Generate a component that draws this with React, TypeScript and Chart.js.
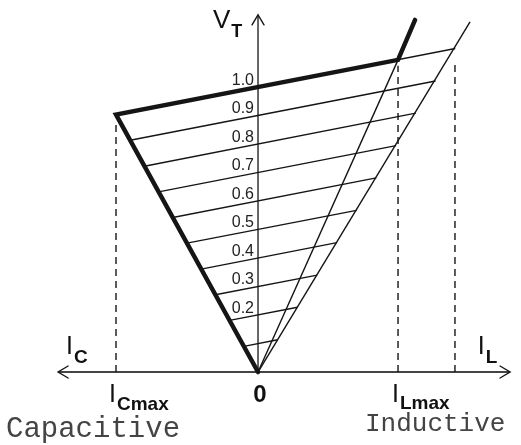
import React, { useEffect, useRef } from "react";
import { Chart, registerables } from "chart.js";

Chart.register(...registerables);

// Voltage reference levels (per unit) of the V-I characteristic family
const levels = [0.1, 0.2, 0.3, 0.4, 0.5, 0.6, 0.7, 0.8, 0.9, 1.0];
const levelLabels = ["", "0.2", "0.3", "0.4", "0.5", "0.6", "0.7", "0.8", "0.9", "1.0"];
// left (capacitive limit) and right (inductive line) end points of each characteristic
const leftI = [-0.1, -0.2, -0.3, -0.4, -0.5, -0.6, -0.7, -0.8, -0.9, -1.0];
const leftV = [0.09, 0.181, 0.271, 0.361, 0.452, 0.542, 0.632, 0.722, 0.813, 0.903];
const rightI = [0.139, 0.278, 0.417, 0.556, 0.694, 0.833, 0.972, 1.111, 1.25, 1.389];
const rightV = [0.113, 0.227, 0.34, 0.454, 0.567, 0.681, 0.794, 0.908, 1.021, 1.135];

// bold operating boundary
const boundI = [0, -1.0, 0.986, 1.106];
const boundV = [0, 0.903, 1.095, 1.235];
// thin lines from origin
const lmaxLineI = [0, 0.986];
const lmaxLineV = [0, 1.095];
const outerLineI = [0, 1.493];
const outerLineV = [0, 1.228];
// dashed verticals
const dashI = [-1.0, 0.986, 1.387];
const dashTop = [0.867, 1.074, 1.084];
// axes
const hAxisI = [-1.408, 1.775];
const vAxisTop = 1.253;

const X_MIN = -1.817;
const X_MAX = 1.852;
const Y_MIN = -0.256;
const Y_MAX = 1.305;

const INK = "#151515";

function seg(xs: number[], ys: number[]) {
  return xs.map((x, i) => ({ x, y: ys[i] }));
}

export default function App() {
  const ref = useRef<HTMLCanvasElement | null>(null);

  useEffect(() => {
    if (!ref.current) return;
    const datasets: any[] = [];

    datasets.push({
      data: seg(boundI, boundV),
      borderColor: INK,
      borderWidth: 4.5,
      borderCapStyle: "round",
      borderJoinStyle: "miter",
    });
    levels.forEach((_, i) => {
      datasets.push({
        data: seg([leftI[i], rightI[i]], [leftV[i], rightV[i]]),
        borderColor: INK,
        borderWidth: 1.4,
      });
    });
    datasets.push({ data: seg(lmaxLineI, lmaxLineV), borderColor: INK, borderWidth: 1.4 });
    datasets.push({ data: seg(outerLineI, outerLineV), borderColor: INK, borderWidth: 1.4 });
    dashI.forEach((x, i) => {
      datasets.push({
        data: seg([x, x], [0, dashTop[i]]),
        borderColor: INK,
        borderWidth: 1.4,
        borderDash: [7, 5],
      });
    });
    datasets.push({ data: seg(hAxisI, [0, 0]), borderColor: "#444", borderWidth: 1.8 });
    datasets.push({ data: seg([0, 0], [0, vAxisTop]), borderColor: INK, borderWidth: 1.3 });

    datasets.forEach((d) => {
      d.showLine = true;
      d.pointRadius = 0;
      d.pointHoverRadius = 0;
      d.fill = false;
      d.tension = 0;
    });

    const textPlugin = {
      id: "texts",
      afterDatasetsDraw(chart: any) {
        const ctx = chart.ctx as CanvasRenderingContext2D;
        const xs = chart.scales.x;
        const ys = chart.scales.y;
        const px = (v: number) => xs.getPixelForValue(v);
        const py = (v: number) => ys.getPixelForValue(v);
        const ox = px(0);
        const oy = py(0);

        ctx.save();
        ctx.strokeStyle = INK;
        ctx.lineWidth = 1.4;
        ctx.lineCap = "round";
        // arrowheads
        const lx = px(hAxisI[0]);
        const rx = px(hAxisI[1]);
        const ty = py(vAxisTop);
        ctx.beginPath();
        ctx.moveTo(lx + 10, oy - 6);
        ctx.lineTo(lx, oy);
        ctx.lineTo(lx + 10, oy + 6);
        ctx.moveTo(rx - 10, oy - 6);
        ctx.lineTo(rx, oy);
        ctx.lineTo(rx - 10, oy + 6);
        ctx.moveTo(ox - 6, ty + 10);
        ctx.lineTo(ox, ty);
        ctx.lineTo(ox + 6, ty + 10);
        ctx.stroke();

        // level labels
        ctx.fillStyle = "#222";
        ctx.font = "16px 'Liberation Sans', Arial, sans-serif";
        ctx.textAlign = "right";
        ctx.textBaseline = "alphabetic";
        levels.forEach((lv, i) => {
          if (!levelLabels[i]) return;
          ctx.fillText(levelLabels[i], ox - 4, py(lv) - 2);
        });

        ctx.textAlign = "left";
        const sub = (main: string, s: string, x: number, y: number, mainSize: number, subSize: number, dy: number) => {
          ctx.font = `${mainSize}px 'Liberation Sans', Arial, sans-serif`;
          ctx.fillText(main, x, y);
          const w = ctx.measureText(main).width;
          ctx.font = `bold ${subSize}px 'Liberation Sans', Arial, sans-serif`;
          ctx.fillText(s, x + w + 1, y + dy);
        };
        ctx.fillStyle = "#111";
        sub("V", "T", ox - 45, 28, 26, 18, 9);
        sub("I", "C", px(-1.408) + 8, oy - 18, 25, 19, 9);
        sub("I", "L", px(1.548), oy - 18, 25, 19, 9);
        sub("I", "Cmax", px(-1.0) - 7, oy + 30, 25, 19, 8);
        sub("I", "Lmax", px(0.986) - 6, oy + 30, 25, 19, 7);

        ctx.font = "bold 24px 'Liberation Sans', Arial, sans-serif";
        ctx.textAlign = "center";
        ctx.fillText("0", ox + 2, oy + 30);

        ctx.fillStyle = "#444";
        ctx.textAlign = "left";
        ctx.font = "29px 'Liberation Mono', 'Courier New', monospace";
        ctx.fillText("Capacitive", 6, 437);
        ctx.font = "26px 'Liberation Mono', 'Courier New', monospace";
        ctx.fillText("Inductive", 365, 431);
        ctx.restore();
      },
    };

    const chart = new Chart(ref.current, {
      type: "scatter",
      data: { datasets },
      options: {
        animation: false,
        responsive: false,
        maintainAspectRatio: false,
        devicePixelRatio: 1,
        layout: { padding: 0 },
        plugins: { legend: { display: false }, tooltip: { enabled: false } },
        events: [],
        scales: {
          x: { type: "linear", min: X_MIN, max: X_MAX, display: false },
          y: { type: "linear", min: Y_MIN, max: Y_MAX, display: false },
        },
      },
      plugins: [textPlugin],
    });
    return () => chart.destroy();
  }, []);

  return (
    <div style={{ position: "absolute", left: 0, top: 0, width: 521, height: 445, background: "#fff" }}>
      <canvas ref={ref} width={521} height={445} style={{ display: "block" }} />
    </div>
  );
}
